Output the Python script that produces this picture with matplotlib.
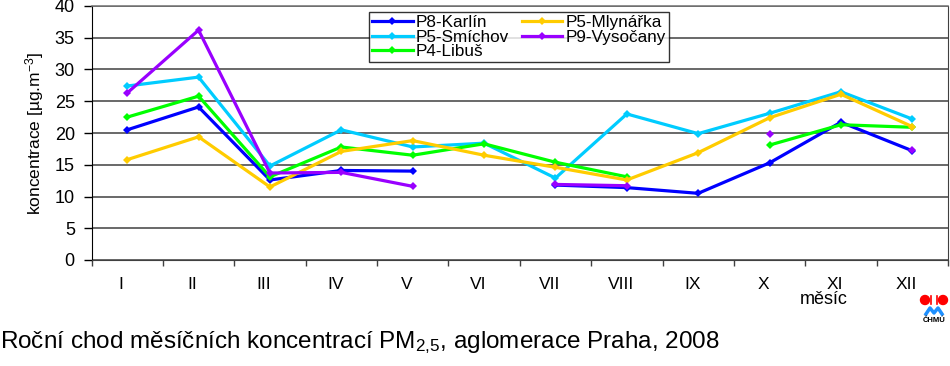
import numpy as np
import matplotlib
matplotlib.use("Agg")
import matplotlib.pyplot as plt
import matplotlib.transforms as mtransforms
from matplotlib.patches import Circle

plt.rcParams['font.family'] = ['Liberation Sans', 'DejaVu Sans']
plt.rcParams['mathtext.fontset'] = 'custom'
plt.rcParams['mathtext.rm'] = 'Liberation Sans'
plt.rcParams['mathtext.it'] = 'Liberation Sans'

months = ["I", "II", "III", "IV", "V", "VI", "VII", "VIII", "IX", "X", "XI", "XII"]
nan = np.nan
karlin = [20.5, 24.1, 12.6, 14.1, 14.0, nan, 11.8, 11.4, 10.5, 15.3, 21.7, 17.2]
smichov = [27.4, 28.8, 14.8, 20.5, 17.8, 18.4, 12.9, 23.0, 19.9, 23.1, 26.5, 22.2]
libus = [22.5, 25.8, 13.1, 17.8, 16.5, 18.3, 15.4, 13.1, nan, 18.1, 21.3, 20.9]
mlynarka = [15.8, 19.4, 11.5, 17.1, 18.8, 16.5, 14.6, 12.6, 16.9, 22.4, 26.1, 21.0]
vysocany = [26.3, 36.2, 13.7, 13.8, 11.6, nan, 11.9, 11.7, nan, 19.9, nan, 17.4]

series = [
    ("P8-Karlín", karlin, "#0000FF"),
    ("P5-Smíchov", smichov, "#00CCFF"),
    ("P4-Libuš", libus, "#00FF00"),
    ("P5-Mlynářka", mlynarka, "#FFCC00"),
    ("P9-Vysočany", vysocany, "#9900FF"),
]

W, H = 950, 366
fig = plt.figure(figsize=(W / 100, H / 100), dpi=100)
ax = fig.add_axes([91.5 / W, (H - 260) / H, (948 - 91.5) / W, (260 - 6) / H])

x = np.arange(len(months))
order = [3, 2, 1, 0, 4]
handles = {}
for i in order:
    name, vals, col = series[i]
    ln, = ax.plot(x, vals, color=col, lw=2.3, marker='D', ms=4.2,
                  markeredgewidth=0, label=name, zorder=3 + i)
    handles[name] = ln

ax.set_xlim(-0.5, 11.5)
ax.set_ylim(0, 40)
ax.set_yticks(np.arange(0, 41, 5))
ax.yaxis.grid(True, color='#404040', lw=1.1)
ax.set_axisbelow(True)
ax.set_xticks(x)
ax.set_xticklabels(months, fontsize=12.5)
ax.set_xticks(np.arange(-0.5, 12, 1), minor=True)
ax.tick_params(axis='x', which='major', length=0, pad=12)
ax.tick_params(axis='x', which='minor', length=4, width=1, color='#404040', direction='out')
ax.tick_params(axis='y', labelsize=13, length=6, width=1, pad=6, direction='out')
offset = mtransforms.ScaledTranslation(-6 / 100, 0, fig.dpi_scale_trans)
for lab in ax.get_xticklabels():
    lab.set_transform(lab.get_transform() + offset)

ax.spines['top'].set_color('#707070')
ax.spines['top'].set_linewidth(1.1)
ax.spines['right'].set_color('#404040')
ax.spines['left'].set_color('black')
ax.spines['bottom'].set_color('#404040')

ax.set_ylabel("koncentrace [µg.m$^{-3}$]", fontsize=12.5, labelpad=6)

leg_order = ["P8-Karlín", "P5-Smíchov", "P4-Libuš", "P5-Mlynářka", "P9-Vysočany"]
leg = ax.legend([handles[n] for n in leg_order], leg_order, ncol=2,
                loc='upper left', bbox_to_anchor=((369 - 91.5) / (948 - 91.5), (260 - 12) / 254),
                fontsize=12.3, frameon=True, fancybox=False, edgecolor='black',
                handlelength=2.35, handletextpad=0.2, columnspacing=0.75,
                labelspacing=-0.05, borderpad=0.2, borderaxespad=0)
leg.get_frame().set_linewidth(1.0)
leg.set_zorder(20)

fig.text(824 / W, 1 - 300 / H, "měsíc", fontsize=13, ha='center', va='center')
fig.text(0.0, 1 - 343 / H, "Roční chod měsíčních koncentrací PM$_{2{,}5}$, aglomerace Praha, 2008",
         fontsize=17.5, ha='left', va='center')

# ČHMÚ logo
lax = fig.add_axes([915 / W, (H - 325) / H, 35 / W, 35 / H])
lax.set_xlim(0, 35)
lax.set_ylim(35, 0)
lax.axis('off')
lax.add_patch(Circle((10, 10), 4.5, color='#FF0000'))
lax.add_patch(Circle((28, 10), 4.5, color='#FF0000'))
lax.plot([16, 16], [6, 14], color='#FF0000', lw=1.2)
lax.plot([22, 22], [6, 14], color='#FF0000', lw=1.2)
lax.plot([11, 15, 19, 23, 27], [24, 18, 23, 18, 24], color='#1E90FF', lw=2.5)
lax.text(19, 31, "ČHMÚ", fontsize=5.5, fontweight='bold', ha='center', va='center')

fig.savefig("out.png", dpi=100)
